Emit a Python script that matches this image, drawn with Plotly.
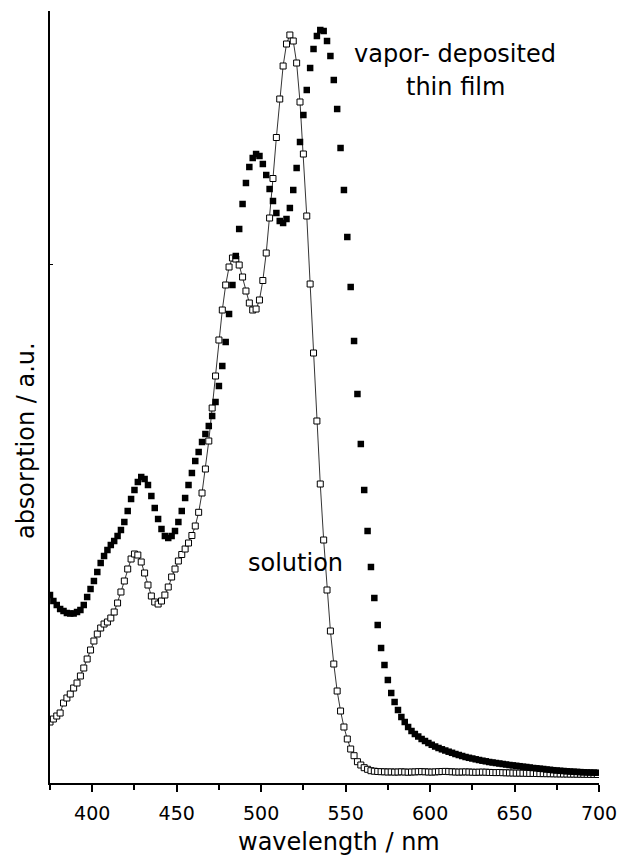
import plotly.graph_objects as go

# wavelength grid (nm), 2 nm sampling
wavelength = list(range(375, 700, 2))

# vapor-deposited thin film absorption (a.u.)
film = [
    188, 182, 178, 174, 172, 170, 169.5, 169.5, 171, 173,
    178, 186, 194, 202, 211, 220, 227, 233, 238, 242,
    247, 253, 261, 272, 284, 293, 301, 306, 304, 298,
    287, 275, 264, 254, 247, 245, 247, 252, 261, 272,
    285, 298, 310, 322, 331, 341, 349, 357, 367, 381,
    397, 417, 441, 469, 498, 527, 554, 579, 600, 616,
    625, 629, 627, 619, 608, 594, 582, 570, 562, 560,
    564, 575, 593, 615, 641, 668, 693, 715, 734, 747,
    753, 752, 742, 727, 703, 674, 635, 593, 546, 496,
    442, 389, 339, 293, 252, 216, 185, 158, 135, 118,
    103, 90, 81, 73, 66, 61, 56, 52, 49, 46.5,
    44, 42, 40, 38.2, 36.5, 35, 33.7, 32.5, 31.3, 30.2,
    29, 28, 27, 26, 25.2, 24.5, 23.7, 23, 22.3, 21.7,
    21, 20.5, 20, 19.5, 19, 18.5, 18, 17.6, 17.2, 16.8,
    16.3, 16, 15.5, 15, 14.7, 14.3, 14, 13.5, 13.2, 12.8,
    12.5, 12.2, 12, 11.7, 11.5, 11.3, 11.1, 10.9, 10.7, 10.6,
    10.5, 10.4, 10.3,
]

# solution absorption (a.u.)
solution = [
    61, 64, 67, 70, 80, 85, 89, 95, 100, 107,
    115, 124, 133, 142, 149, 155, 159, 161, 165, 171,
    180, 191, 202, 214, 224, 229, 228, 221, 210, 198,
    187, 181, 179, 182, 188, 196, 206, 214, 222, 228.5,
    234, 240, 247.5, 257, 270.7, 290, 314, 342, 375, 407,
    443, 473, 498, 516, 525, 524, 518, 506, 492, 480,
    473, 474, 483, 502.5, 530, 565, 604.5, 645.5, 684, 717,
    739, 748, 742, 720, 681, 629, 567, 499, 430, 362,
    299, 243, 193, 152, 119, 92, 72, 56, 44, 34,
    27.3, 21.3, 18, 15.3, 13.7, 12.3, 11.8, 11.5, 11.3, 11.2,
    11.0, 11.1, 10.9, 11.0, 11.2, 11.0, 10.8, 11.0, 11.1, 11.3,
    11.4, 11.2, 11.0, 10.9, 11.1, 11.3, 11.5, 11.6, 11.4, 11.2,
    11.0, 10.9, 11.0, 11.1, 11.0, 10.8, 10.7, 10.8, 10.9, 10.8,
    10.6, 10.5, 10.4, 10.5, 10.3, 10.2, 10.1, 10.0, 9.9, 9.9,
    9.8, 9.7, 9.6, 9.6, 9.5, 9.4, 9.4, 9.3, 9.3, 9.2,
    9.1, 9.1, 9.0, 9.0, 8.9, 8.9, 8.8, 8.8, 8.7, 8.7,
    8.6, 8.6, 8.5,
]

x_ticks = [400, 450, 500, 550, 600, 650, 700]
x_tick_labels = ["400", "450", "500", "550", "600", "650", "700"]
x_minor_ticks = [375, 425, 475, 525, 575, 625, 675]

FONT = "DejaVu Sans"

fig = go.Figure()
fig.add_trace(go.Scatter(
    x=wavelength, y=solution, mode="lines+markers", name="solution",
    line=dict(color="black", width=0.8),
    marker=dict(symbol="square", size=6, color="white",
                line=dict(color="black", width=1)),
))
fig.add_trace(go.Scatter(
    x=wavelength, y=film, mode="markers", name="vapor-deposited thin film",
    marker=dict(symbol="square", size=6.5, color="black", line=dict(width=0)),
))

fig.update_layout(
    template="none",
    width=619, height=855,
    margin=dict(l=50, r=20, t=11, b=72, autoexpand=False),
    paper_bgcolor="white", plot_bgcolor="white",
    showlegend=False,
    font=dict(family=FONT, size=19, color="black"),
    xaxis=dict(
        range=[375, 700], showgrid=False, zeroline=False, automargin=False,
        showline=True, linecolor="black", linewidth=2,
        tickmode="array", tickvals=x_ticks, ticktext=x_tick_labels,
        ticks="outside", ticklen=7, tickwidth=1.5, tickcolor="black",
        ticklabelstandoff=5,
        minor=dict(tickmode="array", tickvals=x_minor_ticks,
                   ticks="outside", ticklen=5, tickwidth=1.5, tickcolor="black"),
        tickfont=dict(family=FONT, size=19, color="black"),
    ),
    yaxis=dict(
        range=[0, 772], showgrid=False, zeroline=False, automargin=False,
        showline=True, linecolor="black", linewidth=2,
        tickmode="array", tickvals=[519], showticklabels=False,
        ticks="inside", ticklen=3, tickwidth=1, tickcolor="black",
    ),
)

annotations = [
    dict(text="wavelength / nm", x=0.5264, y=-0.076, xref="paper", yref="paper",
         xanchor="center", yanchor="middle", showarrow=False,
         font=dict(family=FONT, size=24, color="black")),
    dict(text="absorption / a.u.", x=-0.044, y=0.444, xref="paper", yref="paper",
         xanchor="center", yanchor="middle", textangle=-90, showarrow=False,
         font=dict(family=FONT, size=24, color="black")),
    dict(text="vapor- deposited", x=0.7377, y=0.944, xref="paper", yref="paper",
         xanchor="center", yanchor="middle", showarrow=False,
         font=dict(family=FONT, size=24, color="black")),
    dict(text="thin film", x=0.7386, y=0.9016, xref="paper", yref="paper",
         xanchor="center", yanchor="middle", showarrow=False,
         font=dict(family=FONT, size=24, color="black")),
    dict(text="solution", x=0.4463, y=0.285, xref="paper", yref="paper",
         xanchor="center", yanchor="middle", showarrow=False,
         font=dict(family=FONT, size=24, color="black")),
]
fig.update_layout(annotations=annotations)

fig.write_html("out.html")
